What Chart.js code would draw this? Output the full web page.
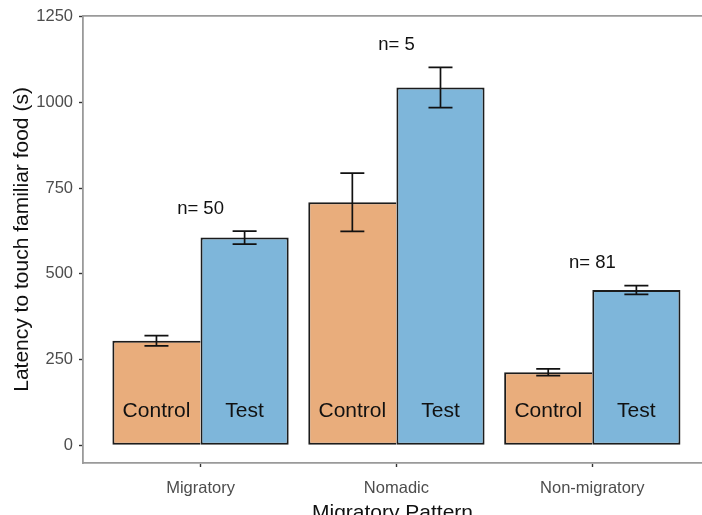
<!DOCTYPE html>
<html>
<head>
<meta charset="utf-8">
<script src="https://cdn.jsdelivr.net/npm/chart.js@4/dist/chart.umd.min.js"></script>
<style>
  html, body { margin: 0; padding: 0; background: #ffffff; }
  #wrap { width: 702px; height: 515px; }
</style>
</head>
<body>
<div id="wrap"><canvas id="c" width="702" height="515"></canvas></div>
<script>
// Migratory pattern groups and their latency measurements (seconds)
const categories = ['Migratory', 'Nomadic', 'Non-migratory'];
const groupLabels = ['Control', 'Test'];
const controlMeans = [305, 709, 213];
const controlErrors = [15, 85, 10];
const testMeans = [606, 1044, 453];
const testErrors = [19, 59, 13];
const sampleSizes = [50, 5, 81];
const yTicks = [0, 250, 500, 750, 1000, 1250];

const FONT = "'Liberation Sans', Arial, Helvetica, sans-serif";
const ORANGE = '#e9ad7c';
const BLUE = '#7eb6da';
const OUTLINE = '#1c1c1c';

const controlPoints = categories.map((c, i) => ({ x: i + 1, y: controlMeans[i] }));
const testPoints = categories.map((c, i) => ({ x: i + 1, y: testMeans[i] }));
const errors = [controlErrors, testErrors];
const means = [controlMeans, testMeans];

// Error bars, in-bar group names and sample-size labels
const annotate = {
  id: 'annotate',
  afterDatasetsDraw(chart) {
    const ctx = chart.ctx;
    const y = chart.scales.y;
    ctx.save();
    // error bars
    ctx.strokeStyle = '#111';
    ctx.lineWidth = 1.7;
    chart.data.datasets.forEach((ds, d) => {
      const meta = chart.getDatasetMeta(d);
      meta.data.forEach((bar, i) => {
        const hi = y.getPixelForValue(means[d][i] + errors[d][i]);
        const lo = y.getPixelForValue(means[d][i] - errors[d][i]);
        const x = bar.x;
        ctx.beginPath();
        ctx.moveTo(x, hi); ctx.lineTo(x, lo);
        ctx.moveTo(x - 12, hi); ctx.lineTo(x + 12, hi);
        ctx.moveTo(x - 12, lo); ctx.lineTo(x + 12, lo);
        ctx.stroke();
      });
    });
    // group names inside the bars
    ctx.fillStyle = '#111';
    ctx.font = '21px ' + FONT;
    ctx.textAlign = 'center';
    ctx.textBaseline = 'middle';
    chart.data.datasets.forEach((ds, d) => {
      chart.getDatasetMeta(d).data.forEach((bar) => {
        ctx.fillText(groupLabels[d], bar.x, y.getPixelForValue(0) - 34);
      });
    });
    // sample sizes above each group
    ctx.font = '18.5px ' + FONT;
    const c0 = chart.getDatasetMeta(0).data;
    const c1 = chart.getDatasetMeta(1).data;
    categories.forEach((cat, i) => {
      const top = Math.max(controlMeans[i] + controlErrors[i], testMeans[i] + testErrors[i]);
      const cx = (c0[i].x + c1[i].x) / 2;
      ctx.fillText('n= ' + sampleSizes[i], cx, y.getPixelForValue(top + 65));
    });
    ctx.restore();
  }
};

// Panel outline along the top edge
const panelTop = {
  id: 'panelTop',
  beforeDatasetsDraw(chart) {
    const { ctx, chartArea } = chart;
    ctx.save();
    ctx.strokeStyle = '#9a9a9a';
    ctx.lineWidth = 1.8;
    ctx.beginPath();
    ctx.moveTo(chartArea.left, chartArea.top);
    ctx.lineTo(chartArea.right + 2, chartArea.top);
    ctx.stroke();
    ctx.restore();
  }
};

new Chart(document.getElementById('c'), {
  type: 'bar',
  data: {
    datasets: [
      {
        label: groupLabels[0],
        data: controlPoints,
        backgroundColor: ORANGE,
        borderColor: OUTLINE,
        borderWidth: { top: 2, left: 2, bottom: 2, right: 0 },
        borderSkipped: false
      },
      {
        label: groupLabels[1],
        data: testPoints,
        backgroundColor: BLUE,
        borderColor: OUTLINE,
        borderWidth: 2,
        borderSkipped: false
      }
    ]
  },
  options: {
    responsive: false,
    animation: false,
    events: [],
    layout: { padding: { left: 0, right: 0, top: 14, bottom: 0 } },
    categoryPercentage: 0.9,
    barPercentage: 1.0,
    plugins: {
      legend: { display: false },
      tooltip: { enabled: false },
      title: { display: false }
    },
    scales: {
      x: {
        type: 'linear',
        min: 0.4,
        max: 3.56,
        offset: false,
        afterBuildTicks(scale) {
          scale.ticks = categories.map((c, i) => ({ value: i + 1 }));
        },
        afterFit(scale) { scale.height = 52; },
        ticks: {
          autoSkip: false,
          maxRotation: 0,
          padding: 12,
          color: '#4d4d4d',
          font: { family: FONT, size: 16.5 },
          callback: (v) => categories[v - 1] || ''
        },
        grid: {
          offset: false,
          drawOnChartArea: false,
          drawTicks: true,
          tickLength: 4,
          tickWidth: 1.4,
          color: '#333333'
        },
        border: { display: true, color: '#9a9a9a', width: 1.8 },
        title: {
          display: true,
          text: 'Migratory Pattern',
          color: '#111',
          font: { family: FONT, size: 21 },
          padding: { top: 0, bottom: -11 }
        }
      },
      y: {
        type: 'linear',
        min: -52,
        max: 1253,
        afterBuildTicks(scale) {
          scale.ticks = yTicks.map(v => ({ value: v }));
        },
        afterFit(scale) { scale.width = 83; },
        ticks: {
          padding: 6,
          color: '#4d4d4d',
          font: { family: FONT, size: 16.5 },
          callback: (v) => String(v)
        },
        grid: {
          drawOnChartArea: false,
          drawTicks: true,
          tickLength: 4,
          tickWidth: 1.4,
          color: '#333333'
        },
        border: { display: true, color: '#9a9a9a', width: 1.8 },
        title: {
          display: true,
          text: 'Latency to touch familiar food (s)',
          color: '#111',
          font: { family: FONT, size: 21 },
          padding: { top: 10, bottom: 0 }
        }
      }
    }
  },
  plugins: [panelTop, annotate]
});
</script>
</body>
</html>
